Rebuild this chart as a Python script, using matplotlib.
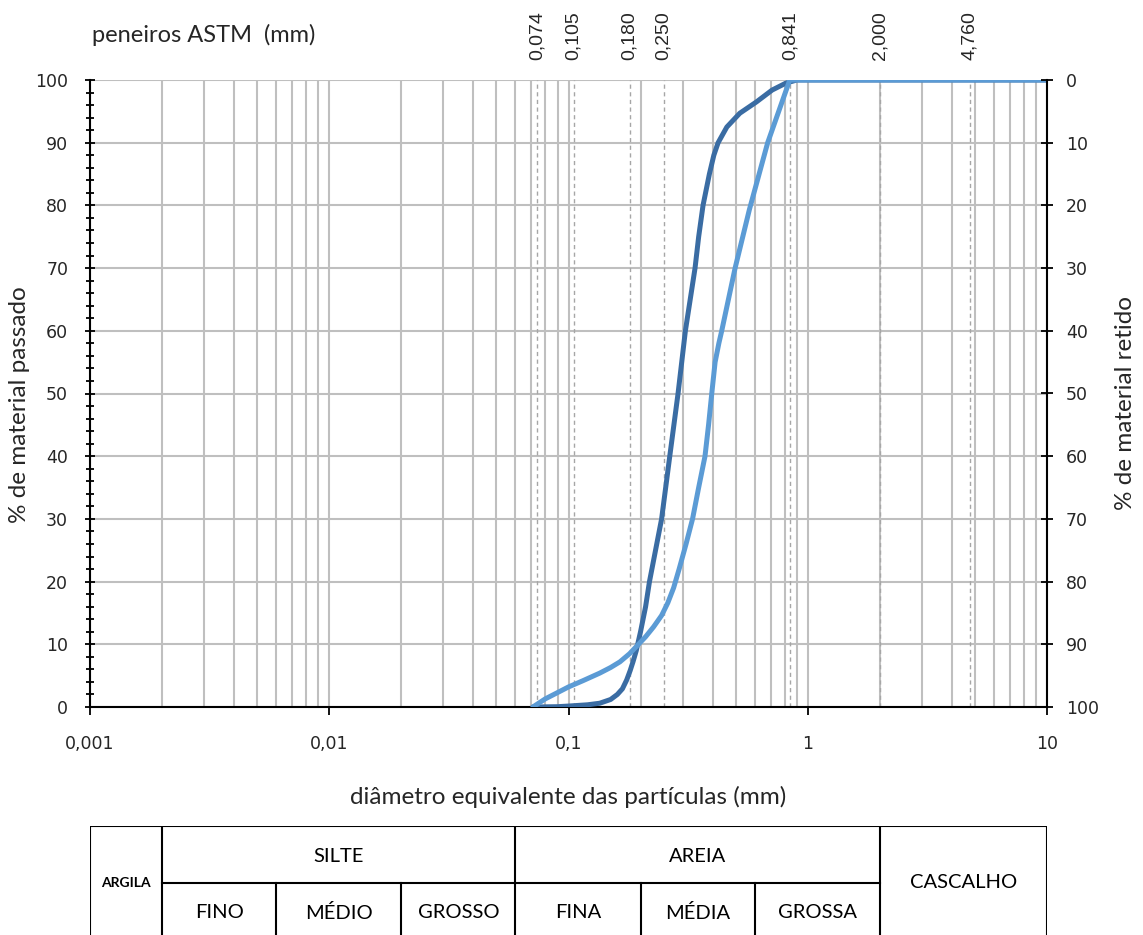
import numpy as np
import matplotlib
matplotlib.use("Agg")
import matplotlib.pyplot as plt
from matplotlib.ticker import FixedLocator, MultipleLocator, NullLocator, NullFormatter
import matplotlib.transforms as mtransforms

# granulometric curves (diameter in mm, % passing)
diam_a = [0.071, 0.09, 0.1, 0.12, 0.135, 0.15, 0.16, 0.168, 0.175, 0.181, 0.186,
          0.192, 0.2, 0.21, 0.218, 0.245, 0.265, 0.287, 0.308, 0.338, 0.35, 0.365,
          0.388, 0.405, 0.422, 0.459, 0.52, 0.61, 0.71, 0.81, 0.9, 2.0, 4.76, 10.0]
pass_a = [0, 0.05, 0.15, 0.35, 0.6, 1.2, 2.0, 2.9, 4.3, 5.8, 7.2,
          9, 12, 16, 20, 30, 40, 50, 60, 70, 75, 80,
          85, 88, 90, 92.5, 94.7, 96.5, 98.4, 99.5, 100, 100, 100, 100]

diam_b = [0.071, 0.075, 0.08, 0.09, 0.1, 0.115, 0.135, 0.15, 0.164, 0.18, 0.195,
          0.21, 0.227, 0.245, 0.26, 0.275, 0.29, 0.31, 0.33, 0.35, 0.372, 0.385,
          0.397, 0.41, 0.425, 0.437, 0.497, 0.57, 0.68, 0.841, 2.0, 4.76, 10.0]
pass_b = [0, 0.6, 1.3, 2.3, 3.2, 4.2, 5.4, 6.3, 7.2, 8.5, 9.9,
          11.2, 12.8, 14.6, 16.6, 19, 22, 26, 30, 35, 40, 45,
          50, 55, 58, 60, 70, 79.3, 90, 100, 100, 100, 100]

# ASTM sieve openings (mm)
sieves = [0.074, 0.105, 0.180, 0.250, 0.841, 2.000, 4.760]
sieve_labels = ["0,074", "0,105", "0,180", "0,250", "0,841", "2,000", "4,760"]

x_ticks = [0.001, 0.01, 0.1, 1, 10]
x_tick_labels = ["0,001", "0,01", "0,1", "1", "10"]

# ABNT classification bands below the chart
class_bounds = [0.001, 0.002, 0.006, 0.02, 0.06, 0.2, 0.6, 2.0, 10.0]
sub_labels = ["FINO", "MÉDIO", "GROSSO", "FINA", "MÉDIA", "GROSSA"]

TXT = "#262626"
GRID = "#BFBFBF"
label_font = ["Lato", "DejaVu Sans"]

W, H = 1143, 935
fig = plt.figure(figsize=(W / 100, H / 100), dpi=100)

ax_l, ax_r, ax_t, ax_b = 90, 1047, 80, 707
ax = fig.add_axes([ax_l / W, 1 - ax_b / H, (ax_r - ax_l) / W, (ax_b - ax_t) / H])
ax.set_xscale("log")
ax.set_xlim(0.001, 10)
ax.set_ylim(0, 100)

# grid
ax.xaxis.set_minor_locator(matplotlib.ticker.LogLocator(base=10, subs=np.arange(2, 10)))
ax.xaxis.set_minor_formatter(NullFormatter())
ax.grid(True, which="both", axis="x", color=GRID, lw=1.5)
ax.yaxis.set_major_locator(MultipleLocator(10))
ax.yaxis.set_minor_locator(MultipleLocator(2))
ax.grid(True, which="major", axis="y", color=GRID, lw=1.5)
ax.set_axisbelow(True)

for s in sieves:
    ax.axvline(s, color="#A6A6A6", lw=1.0, ls=(0, (3, 2.5)), zorder=1.5)

ax.plot(diam_a, pass_a, color="#3A6CA3", lw=3.6, solid_joinstyle="round",
        solid_capstyle="round", zorder=3)
ax.plot(diam_b, pass_b, color="#5B9BD5", lw=3.6, solid_joinstyle="round",
        solid_capstyle="round", zorder=3)

ax.xaxis.set_major_locator(FixedLocator(x_ticks))
ax.set_xticklabels(x_tick_labels)
ax.tick_params(axis="x", which="major", direction="out", length=6, width=1.3,
               pad=14, labelsize=12.5, labelcolor=TXT, top=False)
ax.tick_params(axis="x", which="minor", length=0)
ax.tick_params(axis="y", which="major", direction="inout", length=7.5, width=1.3,
               pad=12, labelsize=12.5, labelcolor=TXT)
ax.tick_params(axis="y", which="minor", direction="inout", length=6, width=1.3)

for side in ["top", "right"]:
    ax.spines[side].set_visible(False)
for side in ["left", "bottom"]:
    ax.spines[side].set_linewidth(1.5)
    ax.spines[side].set_color("black")

# right axis: % retained
ax2 = ax.twinx()
ax2.set_ylim(100, 0)
ax2.yaxis.set_major_locator(MultipleLocator(10))
ax2.yaxis.set_minor_locator(NullLocator())
ax2.tick_params(axis="y", direction="inout", length=9, width=1.3, pad=9,
                labelsize=12.5, labelcolor=TXT)
for side in ["top", "left", "bottom"]:
    ax2.spines[side].set_visible(False)
ax2.spines["right"].set_linewidth(1.5)

# sieve labels
trans = mtransforms.blended_transform_factory(ax.transData, ax.transAxes)
for s, lab in zip(sieves, sieve_labels):
    ax.text(s, 1.032, lab, transform=trans, rotation=90, ha="center", va="bottom",
            fontsize=14, family="Liberation Sans", color=TXT)

fig.text(92 / W, 1 - 35 / H, "peneiros ASTM  (mm)", ha="left", va="center",
         fontsize=17, family=label_font, color=TXT)
fig.text((ax_l + ax_r) / 2 / W, 1 - 797 / H, "diâmetro equivalente das partículas (mm)",
         ha="center", va="center", fontsize=17.5, family=label_font, color=TXT)
fig.text(20 / W, 1 - 405 / H, "% de material passado", rotation=90, ha="center",
         va="center", fontsize=17.5, family=label_font, color=TXT)
fig.text(1125 / W, 1 - 403 / H, "% de material retido", rotation=90, ha="center",
         va="center", fontsize=17.5, family=label_font, color=TXT)

# classification table
tb_top, tb_bot = 826, 940
tax = fig.add_axes([ax_l / W, 1 - tb_bot / H, (ax_r - ax_l) / W, (tb_bot - tb_top) / H])
tax.set_xscale("log")
tax.set_xlim(0.001, 10)
tax.set_ylim(0, 1)
tax.axis("off")
lk = dict(color="black", lw=1.5, solid_capstyle="projecting")
tax.plot([class_bounds[0], class_bounds[-1]], [1, 1], **lk)
tax.plot([class_bounds[0], class_bounds[-1]], [0, 0], **lk)
tax.plot([class_bounds[1], class_bounds[7]], [0.5, 0.5], **lk)
for b in [class_bounds[0], class_bounds[1], class_bounds[4], class_bounds[7], class_bounds[8]]:
    tax.plot([b, b], [0, 1], **lk)
for b in [class_bounds[2], class_bounds[3], class_bounds[5], class_bounds[6]]:
    tax.plot([b, b], [0, 0.5], **lk)


def gmid(a, b):
    return np.sqrt(a * b)


tk = dict(ha="center", va="center", family=label_font, color="black")
tax.text(gmid(class_bounds[0], class_bounds[1]), 0.5, "ARGILA", fontsize=10,
         fontweight="bold", **tk)
tax.text(gmid(class_bounds[1], class_bounds[4]), 0.73, "SILTE", fontsize=14.5, **tk)
tax.text(gmid(class_bounds[4], class_bounds[7]), 0.73, "AREIA", fontsize=14.5, **tk)
tax.text(gmid(class_bounds[7], class_bounds[8]), 0.5, "CASCALHO", fontsize=14.5, **tk)
for i, lab in enumerate(sub_labels):
    tax.text(gmid(class_bounds[i + 1], class_bounds[i + 2]), 0.24, lab,
             fontsize=14.5, **tk)

fig.savefig("out.png", dpi=100)
